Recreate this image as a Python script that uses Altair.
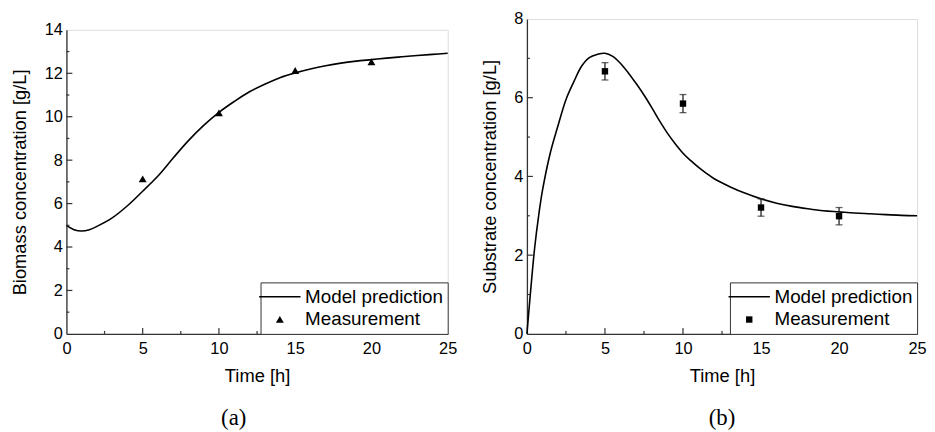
import altair as alt
import pandas as pd

FONT = "Liberation Sans"

# ---------------- data ----------------
# (a) biomass
bio_t = [0, 0.5, 1, 1.5, 2, 3, 4, 5, 6, 7, 8, 9, 10, 11, 12, 13, 14, 15, 16, 17,
         18, 19, 20, 21, 22, 23, 24, 25]
bio_model = [5.0, 4.8, 4.74, 4.8, 4.95, 5.34, 5.9, 6.57, 7.27, 8.1, 8.9, 9.6, 10.2,
             10.7, 11.15, 11.5, 11.8, 12.02, 12.2, 12.35, 12.47, 12.56, 12.63, 12.7,
             12.76, 12.82, 12.87, 12.92]
meas_t = [5, 10, 15, 20]
bio_meas = [7.13, 10.17, 12.12, 12.52]

# (b) substrate
sub_t = [0, 0.25, 0.5, 0.75, 1, 1.5, 2, 2.5, 3, 3.5, 4, 4.5, 5, 5.5, 6, 6.5, 7, 7.5,
         8, 8.5, 9, 9.5, 10, 10.5, 11, 11.5, 12, 13, 14, 15, 16, 17, 18, 19, 20, 21,
         22, 23, 24, 25]
sub_model = [0.0, 1.15, 2.2, 3.0, 3.65, 4.6, 5.3, 5.95, 6.4, 6.8, 7.02, 7.1, 7.13,
             7.05, 6.87, 6.63, 6.36, 6.07, 5.75, 5.41, 5.1, 4.83, 4.59, 4.4, 4.23,
             4.08, 3.94, 3.74, 3.57, 3.43, 3.32, 3.24, 3.18, 3.13, 3.10, 3.07, 3.05,
             3.03, 3.01, 3.0]
sub_meas = [6.67, 5.85, 3.21, 2.99]
sub_err = [0.22, 0.23, 0.22, 0.22]

# ticks
x_major = [0, 5, 10, 15, 20, 25]
x_minor = [2.5, 7.5, 12.5, 17.5, 22.5]
bio_y_major = [0, 2, 4, 6, 8, 10, 12, 14]
bio_y_minor = [1, 3, 5, 7, 9, 11, 13]
sub_y_major = [0, 2, 4, 6, 8]
sub_y_minor = [1, 3, 5, 7]

legend_labels = ["Model prediction", "Measurement"]

# symbol paths (unit space, scaled by sqrt(size)/2)
SYM_SIZE = 361
LINE_PATH = "M-2.2,-0.08H2.2V0.08H-2.2Z"
TRI_PATH = "M0,-0.38L0.42,0.34L-0.42,0.34Z"
SQ_PATH = "M-0.34,-0.34H0.34V0.34H-0.34Z"

FRAME = "#333333"


def panel(t, model, meas, err, y_major, y_minor, ymax, W, H, marker, ytitle):
    xs = alt.Scale(domain=[0, 25], nice=False, zero=False)
    ys = alt.Scale(domain=[0, ymax], nice=False, zero=False)
    ax_x = alt.Axis(title="Time [h]", values=x_major, ticks=False, domain=True,
                    domainColor=FRAME, domainWidth=1.3,
                    grid=False, labelPadding=7, titlePadding=10, format="d",
                    labelFont=FONT, titleFont=FONT, labelFontSize=16.5,
                    titleFontSize=18.5, titleFontWeight="normal",
                    labelColor="black", titleColor="black", labelFlush=False)
    ax_y = alt.Axis(title=ytitle, values=y_major, ticks=False, domain=True,
                    domainColor=FRAME, domainWidth=1.3,
                    grid=False, labelPadding=4, titlePadding=15, format="d",
                    labelFont=FONT, titleFont=FONT, labelFontSize=16.5,
                    titleFontSize=18.5, titleFontWeight="normal",
                    labelColor="black", titleColor="black", labelFlush=False)

    def X():
        return alt.X("x:Q", scale=xs, axis=ax_x)

    def Y():
        return alt.Y("y:Q", scale=ys, axis=ax_y)

    line_df = pd.DataFrame({"x": t, "y": model})
    pts_df = pd.DataFrame({"x": meas_t, "y": meas, "series": ["Measurement"] * len(meas)})

    line = alt.Chart(line_df).mark_line(color="black", strokeWidth=1.6,
                                        interpolate="catmull-rom").encode(x=X(), y=Y())

    legend = alt.Legend(title=None, orient="bottom-right", offset=0, padding=4,
                        strokeColor=FRAME, fillColor="white",
                        labelFont=FONT, labelFontSize=19, labelColor="black",
                        symbolFillColor="black", symbolSize=SYM_SIZE,
                        symbolOpacity=1, symbolOffset=5,
                        rowPadding=2, labelOffset=15, cornerRadius=0)
    pts = alt.Chart(pts_df).mark_point(filled=True, color="black", opacity=1,
                                       size=SYM_SIZE).encode(
        x=X(), y=Y(),
        shape=alt.Shape("series:N",
                        scale=alt.Scale(domain=legend_labels,
                                        range=[LINE_PATH, marker]),
                        legend=legend))

    layers = [line]
    if err is not None:
        lo = [m - e for m, e in zip(meas, err)]
        hi = [m + e for m, e in zip(meas, err)]
        bar_df = pd.DataFrame({"x": meas_t, "y": lo, "y2": hi})
        cap_df = pd.DataFrame({"x": meas_t + meas_t, "y": lo + hi})
        bars = alt.Chart(bar_df).mark_rule(color="#222", strokeWidth=1.3).encode(
            x=X(), y=Y(), y2="y2:Q")
        caps = alt.Chart(cap_df).mark_tick(color="#222", orient="horizontal",
                                           size=7, thickness=1.3).encode(x=X(), y=Y())
        layers += [bars, caps]
    layers.append(pts)

    # inward ticks
    def xticks(vals, L):
        return alt.Chart(pd.DataFrame({"x": vals})).mark_rule(
            color=FRAME, strokeWidth=1.2).encode(
            x=X(), y=alt.value(H), y2=alt.value(H - L))

    def yticks(vals, L):
        return alt.Chart(pd.DataFrame({"y": vals})).mark_rule(
            color=FRAME, strokeWidth=1.2).encode(
            y=Y(), x=alt.value(0), x2=alt.value(L))

    layers += [xticks(x_major[1:-1], 6), xticks(x_minor, 3),
               yticks(y_major[1:-1], 6), yticks(y_minor, 3)]

    return alt.layer(*layers).properties(width=W, height=H)


left = panel(bio_t, bio_model, bio_meas, None, bio_y_major, bio_y_minor, 14,
             385, 307, TRI_PATH, "Biomass concentration [g/L]").properties(
    title=alt.TitleParams("(a)", orient="bottom", font="Liberation Serif",
                          fontSize=23, fontWeight="normal", color="black",
                          anchor="middle", frame="bounds", offset=22))
right = panel(sub_t, sub_model, sub_meas, sub_err, sub_y_major, sub_y_minor, 8,
              394, 318, SQ_PATH, "Substrate concentration [g/L]").properties(
    title=alt.TitleParams("(b)", orient="bottom", font="Liberation Serif",
                          fontSize=23, fontWeight="normal", color="black",
                          anchor="middle", frame="group", offset=22))

spacer = alt.Chart(pd.DataFrame({"x": [0]})).mark_point(opacity=0, size=1).properties(
    width=10, height=1, view=alt.ViewBackground(stroke="transparent"))

left_col = alt.vconcat(spacer, left, spacing=0).resolve_scale(
    shape="independent").resolve_legend(shape="independent")
right_col = alt.vconcat(right, spacing=0).resolve_scale(
    shape="independent").resolve_legend(shape="independent")

chart = alt.hconcat(left_col, right_col, spacing=22).resolve_scale(
    shape="independent").resolve_legend(shape="independent").properties(
    padding={"left": 2, "top": 0, "right": 0, "bottom": 0}
).configure_view(stroke=FRAME, strokeWidth=1.3).configure(background="white")

chart.save("out.html", embed_options={"renderer": "svg", "actions": False})
